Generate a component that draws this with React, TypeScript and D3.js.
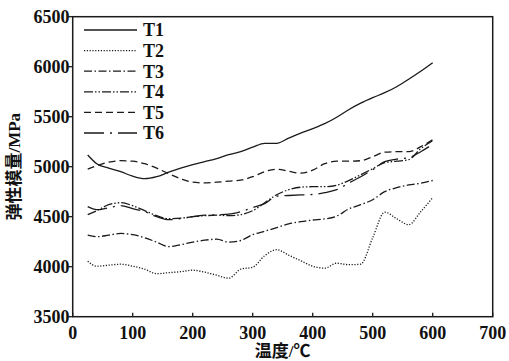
import React from "react";
import * as d3 from "d3";

const temps = [25, 40, 60, 80, 100, 120, 140, 160, 180, 200, 220, 240, 260, 280, 300, 320, 340, 360, 380, 400, 420, 440, 460, 480, 500, 520, 540, 560, 580, 600];

const T1 = [5117, 5030, 4985, 4950, 4905, 4880, 4900, 4945, 4985, 5020, 5050, 5080, 5120, 5150, 5195, 5234, 5234, 5285, 5335, 5380, 5430, 5495, 5570, 5635, 5690, 5740, 5800, 5875, 5955, 6040];
const T2 = [4055, 4005, 4015, 4025, 4005, 3975, 3930, 3940, 3950, 3965, 3945, 3915, 3885, 3975, 3995, 4110, 4170, 4115, 4060, 4005, 3985, 4035, 4020, 4025, 4290, 4545, 4480, 4420, 4550, 4690];
const T3 = [4315, 4300, 4315, 4333, 4320, 4290, 4245, 4200, 4220, 4245, 4265, 4275, 4245, 4262, 4320, 4355, 4390, 4428, 4450, 4467, 4478, 4505, 4578, 4620, 4670, 4750, 4790, 4818, 4835, 4862];
const T4 = [4520, 4560, 4620, 4640, 4610, 4560, 4510, 4480, 4485, 4500, 4510, 4515, 4510, 4520, 4560, 4640, 4720, 4770, 4795, 4800, 4800, 4815, 4860, 4920, 4980, 5040, 5055, 5070, 5180, 5260];
const T5 = [4975, 5010, 5045, 5060, 5055, 5030, 4985, 4930, 4880, 4845, 4838, 4845, 4855, 4865, 4900, 4950, 4975, 4955, 4935, 4965, 5030, 5055, 5055, 5060, 5100, 5145, 5150, 5150, 5200, 5270];
const T6 = [4600, 4570, 4590, 4610, 4580, 4550, 4500, 4470, 4480, 4500, 4515, 4520, 4525, 4550, 4590, 4630, 4705, 4712, 4718, 4722, 4740, 4770, 4835, 4900, 4970, 5050, 5075, 5090, 5150, 5225];

const seriesNames = ["T1", "T2", "T3", "T4", "T5", "T6"];
const seriesValues = [T1, T2, T3, T4, T5, T6];
const dashes = ["none", "1.2,1.6", "8,2.5,1.5,2.5", "9,2,1.5,2,1.5,2", "7,4", "20,6,2,6"];

const xTicks = [0, 100, 200, 300, 400, 500, 600, 700];
const yTicks = [3500, 4000, 4500, 5000, 5500, 6000, 6500];

const W = 509, H = 361;
const L = 72.7, R = 492.7, T = 16.7, B = 316.7;
const FONT = "'Liberation Serif', 'Times New Roman', 'Noto Sans CJK SC', serif";

export default function App() {
  const x = d3.scaleLinear().domain([0, 700]).range([L, R]);
  const y = d3.scaleLinear().domain([3500, 6500]).range([B, T]);
  const line = d3.line<[number, number]>().x(d => x(d[0])).y(d => y(d[1])).curve(d3.curveMonotoneX);
  const stroke = "#1a1a1a";
  return (
    <svg width={W} height={H} style={{ position: "absolute", left: 0, top: 0, background: "#fff" }} fontFamily={FONT}>
      <rect x={0} y={0} width={W} height={H} fill="#fff" />
      {seriesValues.map((vals, i) => (
        <path key={i} d={line(temps.map((t, j) => [t, vals[j]]) as [number, number][]) || ""}
          fill="none" stroke={stroke} strokeWidth={1.3} strokeDasharray={dashes[i]} />
      ))}
      <rect x={L} y={T} width={R - L} height={B - T} fill="none" stroke={stroke} strokeWidth={1.5} />
      {xTicks.map(t => (
        <g key={t}>
          <line x1={x(t)} x2={x(t)} y1={B} y2={B - 4} stroke={stroke} strokeWidth={1.3} />
          <text x={x(t)} y={339} textAnchor="middle" fontSize={18} fontWeight="bold" fill="#111">{t}</text>
        </g>
      ))}
      {yTicks.map(t => (
        <g key={t}>
          <line x1={L} x2={L - 4.5} y1={y(t)} y2={y(t)} stroke={stroke} strokeWidth={1.3} />
          <text x={69.5} y={y(t)} dy="0.35em" textAnchor="end" fontSize={18} fontWeight="bold" fill="#111">{t}</text>
        </g>
      ))}
      {seriesNames.map((n, i) => {
        const ly = 30 + i * 20.6;
        return (
          <g key={n}>
            <line x1={84} x2={137} y1={ly} y2={ly} stroke={stroke} strokeWidth={1.3} strokeDasharray={dashes[i]} />
            <text x={143} y={ly} dy="0.35em" fontSize={18} fontWeight="bold" fill="#111">{n}</text>
          </g>
        );
      })}
      <text x={(L + R) / 2} y={357} textAnchor="middle" fontSize={17} fontWeight="bold" fill="#111">温度/℃</text>
      <text transform={`translate(20,${(T + B) / 2}) rotate(-90)`} textAnchor="middle" fontSize={17} fontWeight="bold" fill="#111">弹性模量/MPa</text>
    </svg>
  );
}
